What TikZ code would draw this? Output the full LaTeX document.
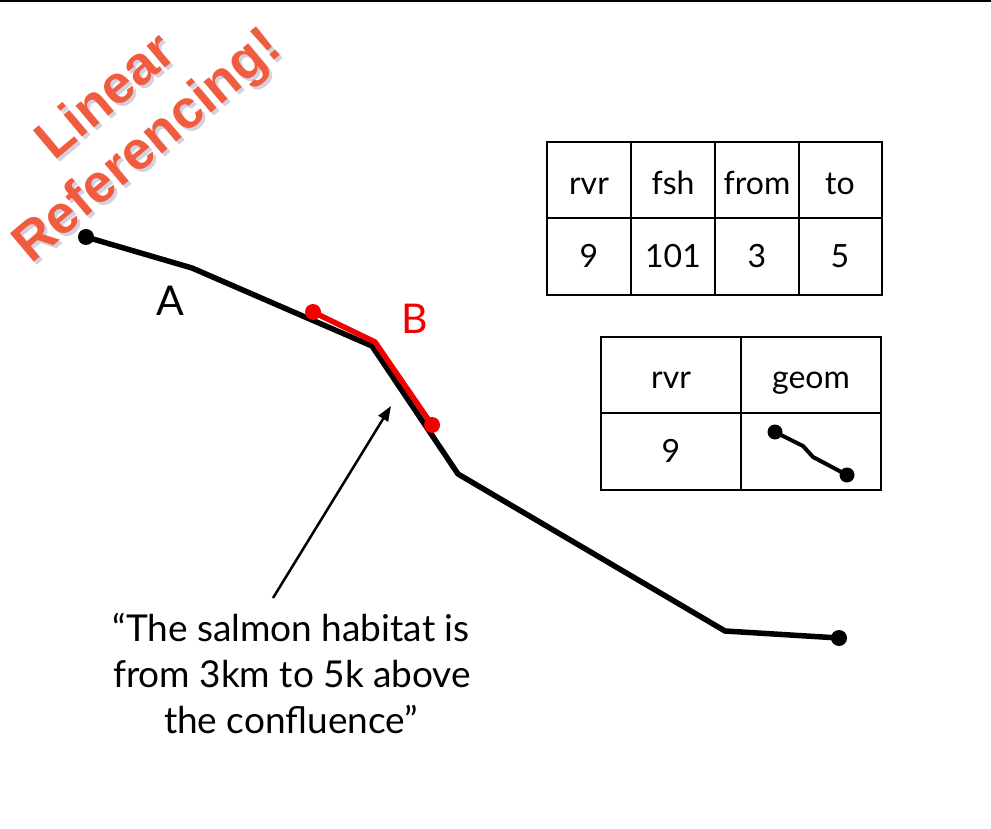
\documentclass[tikz,border=0pt]{standalone}
\usepackage{fontspec}
\setmainfont{Lato}
\newfontfamily\helv{Liberation Sans}
\usetikzlibrary{arrows.meta}
\definecolor{lrcol}{RGB}{241,92,62}
\definecolor{shadcol}{RGB}{110,100,150}
\definecolor{bred}{RGB}{240,0,0}
\begin{document}
\begin{tikzpicture}[x=1pt,y=-1pt,
  river/.style={line width=5.5pt, line join=round},
  rdot/.style={circle, fill, inner sep=0pt, minimum size=16pt},
  sdot/.style={circle, fill, inner sep=0pt, minimum size=15pt},
  cell/.style={font=\fontsize{32}{38}\selectfont, inner sep=0pt, anchor=base},
  gridline/.style={line width=2pt},
  qline/.style={font=\fontsize{37}{46}\selectfont, inner sep=0pt, anchor=base},
  title/.style={font=\helv\bfseries\fontsize{54}{64}\selectfont, align=center, rotate=40, inner sep=0pt}]
\useasboundingbox (0,0) rectangle (991,829);
\draw[line width=2pt] (0,1) -- (991,1);

% title with shadow
\node[title, text=shadcol, opacity=0.3] (ttlshadow) at (131,126) {Linear\\Referencing!};
\node[title, text=lrcol] (ttl) at (128,123) {Linear\\Referencing!};

% river
\coordinate (r0) at (86,237);
\coordinate (r1) at (192,268);
\coordinate (r2) at (372,346);
\coordinate (r3) at (458,474);
\coordinate (r4) at (725,631);
\coordinate (r5) at (839,638);
\draw[river] (r0) -- (r1) -- (r2) -- (r3) -- (r4) -- (r5);
\node[rdot] (start) at (r0) {};
\node[rdot] (end) at (r5) {};

% red segment B
\coordinate (b0) at (313,312);
\coordinate (b1) at (375,342);
\coordinate (b2) at (432,425);
\draw[river, bred] (b0) -- (b1) -- (b2);
\node[rdot, fill=bred] (bs) at (b0) {};
\node[rdot, fill=bred] (be) at (b2) {};

\node[font=\fontsize{41}{48}\selectfont, inner sep=0pt, anchor=base] (la) at (170,316) {A};
\node[font=\fontsize{41}{48}\selectfont, inner sep=0pt, anchor=base, text=bred] (lb) at (415,333) {B};

% quote and arrow
\node[qline] (q1) at (291,641) {“The salmon habitat is};
\node[qline] (q2) at (292,687) {from 3km to 5k above};
\node[qline] (q3) at (291,733) {the confluence”};
\coordinate (atail) at (273,598);
\coordinate (ahead) at (391,406);
\draw[line width=2.5pt, -{Triangle[length=15pt,width=11pt]}] (atail) -- (ahead);

% table 1
\draw[gridline] (547,142) rectangle (882,295);
\draw[gridline] (547,218) -- (882,218);
\foreach \x in {631,715,799} \draw[gridline] (\x,142) -- (\x,295);
\node[cell] (t1a) at (589,195) {rvr};
\node[cell] (t1b) at (673,195) {fsh};
\node[cell] (t1c) at (757,195) {from};
\node[cell] (t1d) at (840,195) {to};
\node[cell] (t1e) at (589,268) {9};
\node[cell] (t1f) at (673,268) {101};
\node[cell] (t1g) at (757,268) {3};
\node[cell] (t1h) at (840,268) {5};

% table 2
\draw[gridline] (601,337) rectangle (881,490);
\draw[gridline] (601,413) -- (881,413);
\draw[gridline] (741,337) -- (741,490);
\node[cell] (t2a) at (671,388) {rvr};
\node[cell] (t2b) at (811,388) {geom};
\node[cell] (t2c) at (671,462) {9};
\coordinate (g0) at (775,432);
\coordinate (g1) at (803,446);
\coordinate (g2) at (813,457);
\coordinate (g3) at (847,475);
\draw[line width=4pt, line join=round] (g0) -- (g1) -- (g2) -- (g3);
\node[sdot] (gs) at (g0) {};
\node[sdot] (ge) at (g3) {};
\end{tikzpicture}
\end{document}
